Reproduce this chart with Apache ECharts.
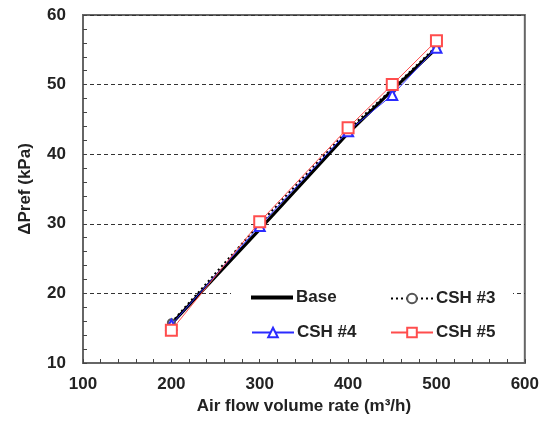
<!DOCTYPE html>
<html>
<head>
<meta charset="utf-8">
<script src="https://cdn.jsdelivr.net/npm/echarts@6/dist/echarts.min.js"></script>
<style>
  html, body { margin: 0; padding: 0; background: #fff; }
  #chart { width: 542px; height: 421px; }
</style>
</head>
<body>
<div id="chart"></div>
<script>
// Air flow volume rate (m³/h)
const flowRates = [200, 300, 400, 450, 500];
// Pressure difference ΔPref (kPa) per configuration
const baseValues = [15.6, 29.2, 43.0, 49.2, 55.2];
const csh3Values = [15.8, 30.0, 43.5, 49.4, 55.5];
const csh4Values = [15.5, 29.7, 43.3, 48.5, 55.3];
const csh5Values = [14.7, 30.3, 43.8, 50.0, 56.3];

const xTicks = { min: 100, max: 600, step: 100 };
const yTicks = { min: 10, max: 60, step: 10 };

const pairs = vals => flowRates.map((x, i) => [x, vals[i]]);

const FONT = 'Liberation Sans, Arial, sans-serif';
const textStyle = { fontFamily: FONT, fontSize: 17, fontWeight: 'bold', color: '#222' };

const chart = echarts.init(document.getElementById('chart'), null, { renderer: 'canvas' });

function legendAt(item, left, top, itemHeight) {
  return {
    data: [item],
    left: left, top: top,
    orient: 'horizontal',
    padding: 0,
    itemWidth: 42, itemHeight: itemHeight, itemGap: 4,
    textStyle: Object.assign({}, textStyle, { padding: [0, 0, 0, -2] }),
    selectedMode: false,
    z: 20
  };
}

chart.setOption({
  animation: false,
  backgroundColor: '#fff',
  grid: {
    left: 83, right: 15, top: 15, bottom: 58,
    show: true, borderColor: '#666', borderWidth: 2, backgroundColor: 'transparent'
  },
  graphic: [{
    type: 'rect',
    shape: { x: 231, y: 281, width: 282, height: 66 },
    style: { fill: '#fff' },
    z: 10
  }],
  legend: [
    legendAt({ name: 'Base', icon: 'rect' }, 251, 289, 4),
    legendAt('CSH #3', 390, 290, 12),
    legendAt('CSH #4', 251, 324, 12),
    legendAt('CSH #5', 390, 324, 12)
  ],
  xAxis: {
    type: 'value',
    min: xTicks.min, max: xTicks.max, interval: xTicks.step,
    name: 'Air flow volume rate (m³/h)',
    nameLocation: 'middle', nameGap: 31,
    nameTextStyle: textStyle,
    axisLine: { show: true, lineStyle: { color: '#666', width: 2 } },
    axisTick: { show: true, inside: true, length: 4, lineStyle: { color: '#444', width: 1 } },
    minorTick: { show: true, splitNumber: 5, length: 4, lineStyle: { color: '#444', width: 1 } },
    axisLabel: Object.assign({}, textStyle, { margin: 13 }),
    splitLine: { show: false }
  },
  yAxis: {
    type: 'value',
    min: yTicks.min, max: yTicks.max, interval: yTicks.step,
    name: 'ΔPref (kPa)',
    nameLocation: 'middle', nameGap: 49, nameRotate: 90,
    nameTextStyle: textStyle,
    axisLine: { show: true, lineStyle: { color: '#666', width: 2 } },
    axisTick: { show: true, inside: true, length: 4, lineStyle: { color: '#444', width: 1 } },
    minorTick: { show: true, splitNumber: 5, length: 4, lineStyle: { color: '#444', width: 1 } },
    axisLabel: Object.assign({}, textStyle, { margin: 17 }),
    splitLine: { show: true, lineStyle: { color: '#333', width: 1, type: [4, 3] } }
  },
  series: [
    {
      name: 'Base', type: 'line', data: pairs(baseValues),
      symbol: 'none', color: '#000',
      lineStyle: { color: '#000', width: 3 }, z: 2
    },
    {
      name: 'CSH #3', type: 'line', data: pairs(csh3Values),
      symbol: 'emptyCircle', symbolSize: 7, color: '#555',
      itemStyle: { color: '#555', borderWidth: 1.5 },
      lineStyle: { color: '#000', width: 2, type: [2, 3] }, z: 3
    },
    {
      name: 'CSH #4', type: 'line', data: pairs(csh4Values),
      symbol: 'emptyTriangle', symbolSize: 10, color: '#2b2bff',
      itemStyle: { color: '#2b2bff', borderWidth: 1.3 },
      lineStyle: { color: '#2b2bff', width: 1 }, z: 4
    },
    {
      name: 'CSH #5', type: 'line', data: pairs(csh5Values),
      symbol: 'emptyRect', symbolSize: 11, color: '#ff4d4d',
      itemStyle: { color: '#ff4d4d', borderWidth: 1.3 },
      lineStyle: { color: '#ff4d4d', width: 1 }, z: 5
    }
  ]
});
</script>
</body>
</html>
